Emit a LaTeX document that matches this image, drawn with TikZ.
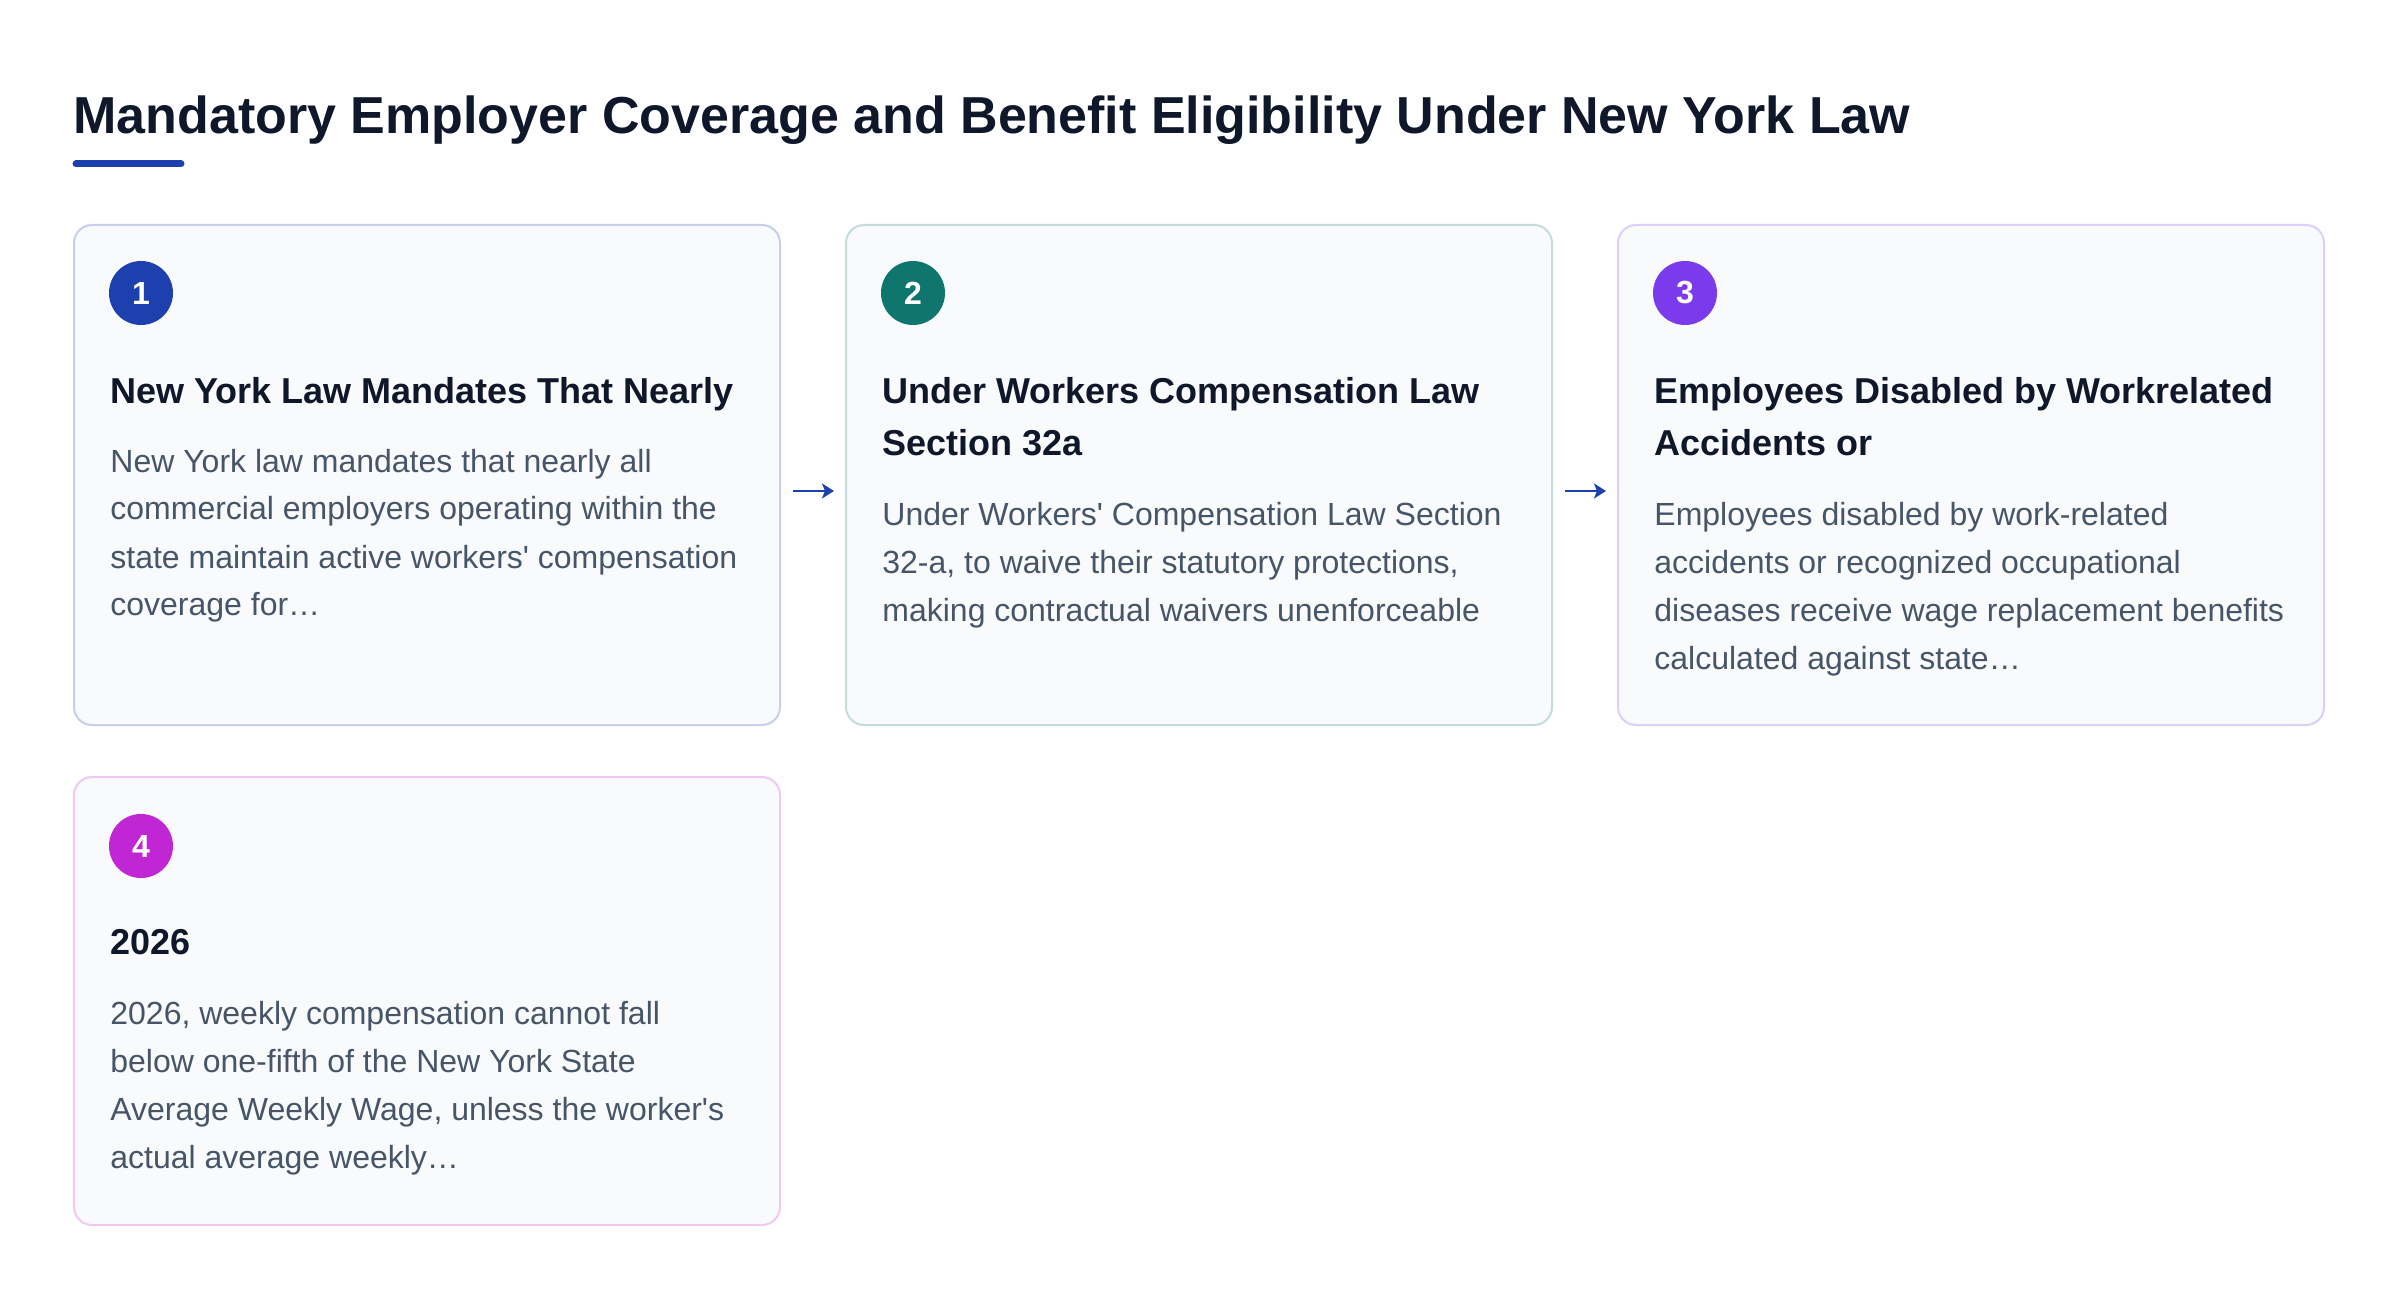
\documentclass[tikz,border=0pt]{standalone}
\usepackage{fontspec}
\setmainfont{Liberation Sans}
\usetikzlibrary{arrows.meta}
\definecolor{ink}{HTML}{0F172A}
\definecolor{bodyc}{HTML}{475569}
\definecolor{cardbg}{HTML}{F8FAFC}
\definecolor{acA}{HTML}{1E40AF}
\definecolor{acB}{HTML}{0F766E}
\definecolor{acC}{HTML}{7C3AED}
\definecolor{acD}{HTML}{C026D3}
\newcommand\tbox[1]{\parbox[t]{340pt}{\raggedright #1}}
\newcommand\apo{\textquotesingle}
\begin{document}
\begin{tikzpicture}[x=0.5pt,y=-0.5pt,
  card/.style={draw=#1!25!white, fill=cardbg, line width=1pt, rounded corners=9pt, minimum width=353pt, anchor=north west, inner sep=0},
  badge/.style={circle, fill=#1, minimum size=32pt, inner sep=0, text=white, font=\fontsize{16pt}{16pt}\selectfont\bfseries},
  head/.style={anchor=base west, inner sep=0, text=ink, font=\fontsize{18pt}{26pt}\selectfont\bfseries},
  bodytext/.style={anchor=base west, inner sep=0, text=bodyc, font=\fontsize{16pt}{24pt}\selectfont},
  flow/.style={draw=acA, line width=1.3pt, -{Stealth[length=6pt,width=7.5pt,inset=1.5pt]}}]
\fill[white] (0,0) rectangle (2400,1300);
\useasboundingbox (0,0) rectangle (2400,1300);

% title
\node[anchor=base west, inner sep=0, text=ink, font=\fontsize{26pt}{30pt}\selectfont\bfseries] (title) at (73,134) {Mandatory Employer Coverage and Benefit Eligibility Under New York Law};
\draw[acA, line width=3.5pt, line cap=round] (76,164) -- (181,164);

% cards
\node[card=acA, minimum height=250pt] (c1) at (73,224) {};
\node[card=acB, minimum height=250pt] (c2) at (845,224) {};
\node[card=acC, minimum height=250pt] (c3) at (1617,224) {};
\node[card=acD, minimum height=224pt] (c4) at (73,776) {};

% badges
\node[badge=acA] (n1) at (141,293) {1};
\node[badge=acB] (n2) at (913,293) {2};
\node[badge=acC] (n3) at (1685,293) {3};
\node[badge=acD] (n4) at (141,846) {4};

% card 1
\node[head] (h1) at (110,403) {\tbox{New York Law Mandates That Nearly}};
\node[bodytext] (b1) at (110,472) {\tbox{New York law mandates that nearly all\\commercial employers operating within the\\state maintain active workers\apo{} compensation\\coverage for…}};

% card 2
\node[head] (h2) at (882,403) {\tbox{Under Workers Compensation Law\\Section 32a}};
\node[bodytext] (b2) at (882,525) {\tbox{Under Workers\apo{} Compensation Law Section\\32-a, to waive their statutory protections,\\making contractual waivers unenforceable}};

% card 3
\node[head] (h3) at (1654,403) {\tbox{Employees Disabled by Workrelated\\Accidents or}};
\node[bodytext] (b3) at (1654,525) {\tbox{Employees disabled by work-related\\accidents or recognized occupational\\diseases receive wage replacement benefits\\calculated against state…}};

% card 4
\node[head] (h4) at (110,954) {\tbox{2026}};
\node[bodytext] (b4) at (110,1024) {\tbox{2026, weekly compensation cannot fall\\below one-fifth of the New York State\\Average Weekly Wage, unless the worker\apo{}s\\actual average weekly…}};

% arrows
\draw[flow] ([shift={(12,16)}]c1.east) -- ([shift={(-11,16)}]c2.west);
\draw[flow] ([shift={(12,16)}]c2.east) -- ([shift={(-11,16)}]c3.west);
\end{tikzpicture}
\end{document}
